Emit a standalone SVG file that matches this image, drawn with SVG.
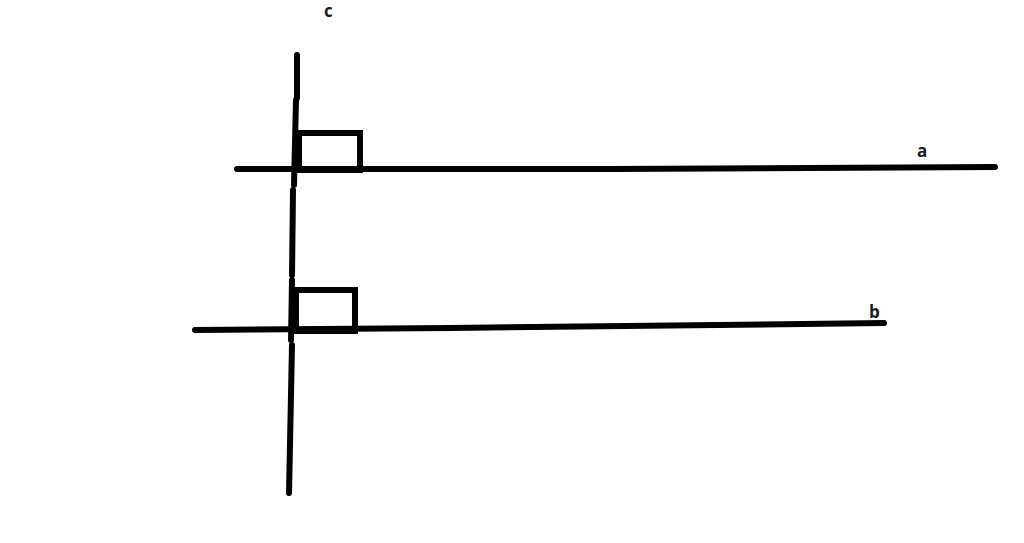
<svg xmlns="http://www.w3.org/2000/svg" width="1024" height="543" viewBox="0 0 1024 543">
<style>
.ln{fill:none;stroke:#000;stroke-width:6;stroke-linecap:round;stroke-linejoin:round}
.sq{fill:none;stroke:#000;stroke-width:6}
.lb{font-family:"Open Sans","Liberation Sans",sans-serif;font-weight:bold;font-size:17px;fill:#1a1a1a}
</style>
<rect width="1024" height="543" fill="#fff"/>
<g id="connectors">
<path id="line-c" class="ln" d="M297,55 L297,98 M296,100 L294,185 M293,190 L292,275 M292,280 L291,340 M292,345 L289,493"/>
<path id="line-a" class="ln" d="M237,169 L612,169 L995,167"/>
<path id="line-b" class="ln" d="M195,330 L450,328 L625,326 L884,323"/>
</g>
<g id="right-angle-1"><rect class="sq" x="299" y="133" width="61" height="37"/></g>
<g id="right-angle-2"><rect class="sq" x="296" y="290" width="59" height="41"/></g>
<g id="label-c"><text class="lb" x="324" y="17">c</text></g>
<g id="label-a"><text class="lb" x="917" y="157">a</text></g>
<g id="label-b"><text class="lb" x="869" y="318">b</text></g>
</svg>
